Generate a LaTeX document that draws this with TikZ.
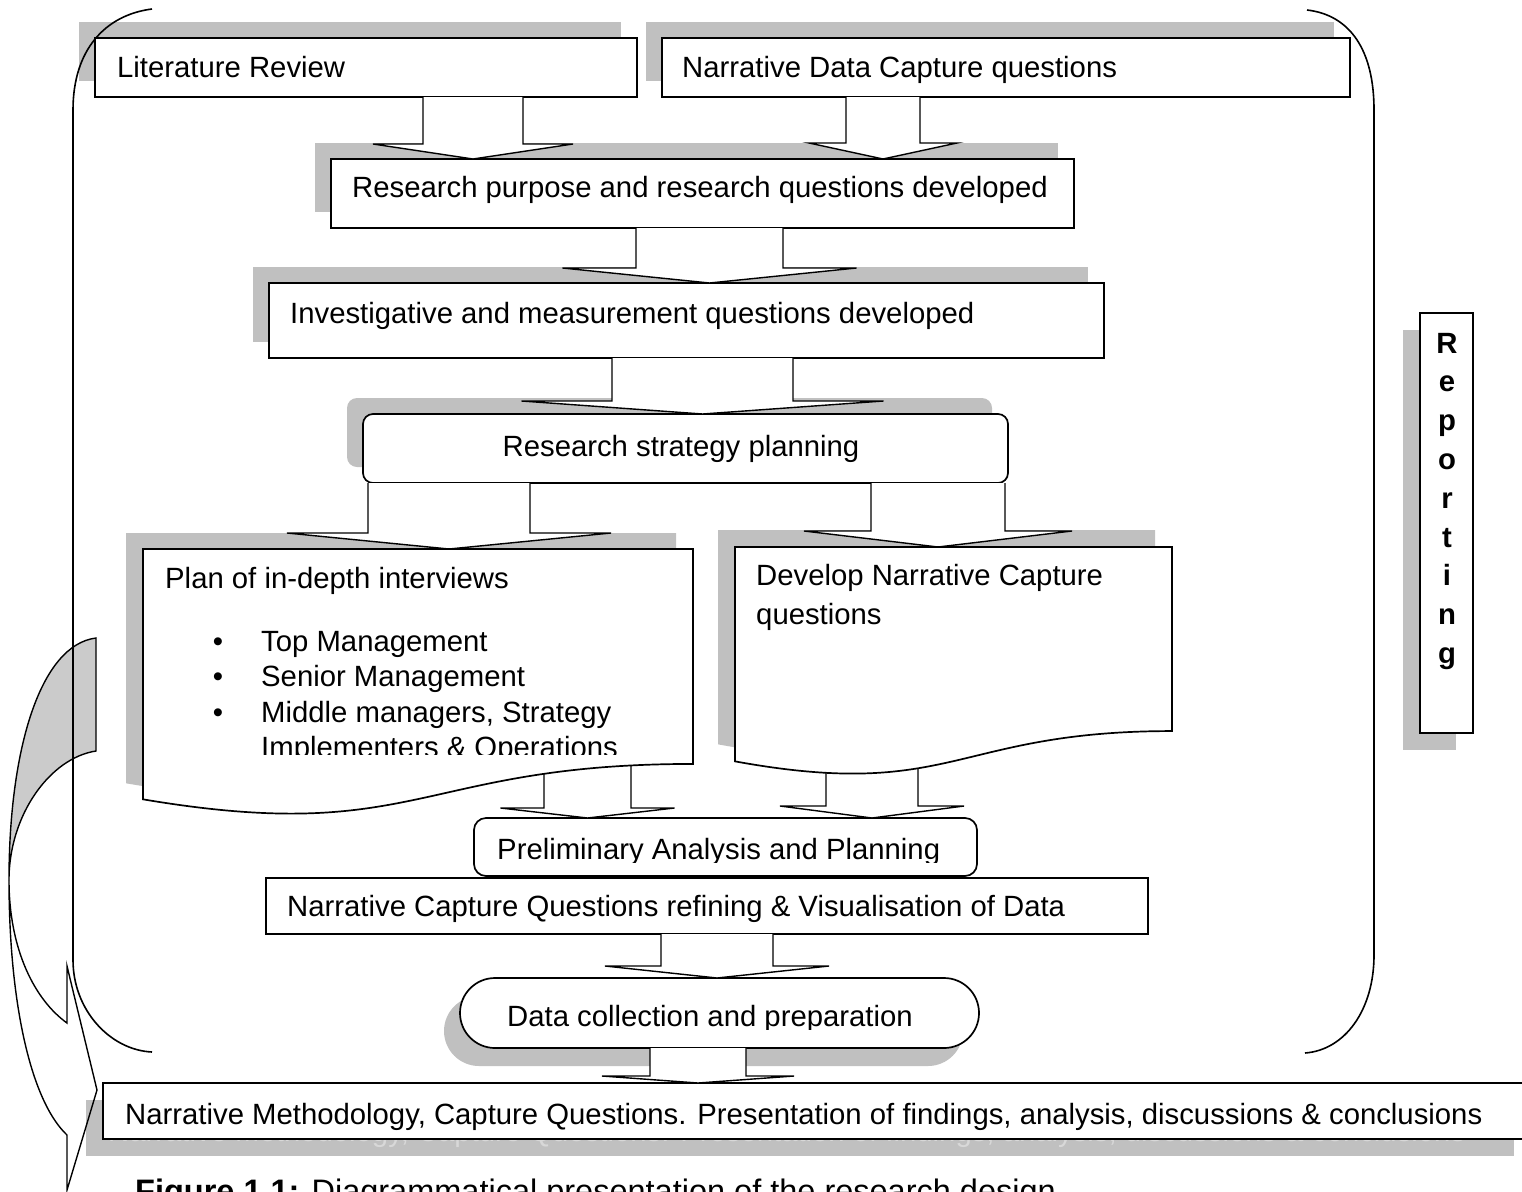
\documentclass[tikz,border=0pt]{standalone}
\usepackage{fontspec}
\setmainfont{Liberation Sans}
\usetikzlibrary{calc}
\pgfdeclarelayer{back}
\pgfsetlayers{back,main}
\definecolor{shadowgray}{HTML}{C0C0C0}
\definecolor{crescentgray}{HTML}{CBCBCB}
\definecolor{ghostgray}{HTML}{D8D8D8}

\tikzset{
  box/.style={draw, fill=white, line width=1.7pt, inner sep=0pt, outer sep=0pt, anchor=north west},
  anchorbox/.style={inner sep=0pt, outer sep=0pt, anchor=north west},
  txt/.style={inner sep=0pt, anchor=base west},
  shadowfill/.style={fill=shadowgray},
  blockarr/.style={draw, fill=white, line width=1.4pt, line join=miter},
  bracket/.style={draw, line width=1.6pt},
  docline/.style={draw, fill=white, line width=1.7pt},
  ribbon/.style={draw, line width=1.4pt, line join=miter},
  letter/.style={inner sep=0pt, anchor=base, font={\fontsize{29.3}{35}\selectfont\bfseries}},
}

% outline of a flowchart "document" shape: x, y, width, height
\newcommand\docpath[4]{(#1,#2) -- (#1+#3,#2) -- (#1+#3,#2+0.802*#4)
  .. controls (#1+0.5*#3,#2+0.802*#4) and (#1+0.5*#3,#2+1.1075*#4) .. (#1,#2+0.934*#4) -- cycle}

% shadow behind a box node: node, dx, dy, corner style
\newcommand\boxshadow[4]{\fill[shadowfill, #4] ([shift={(#2,#3)}]#1.north west) rectangle ([shift={(#2,#3)}]#1.south east);}

% hollow block arrow: source, target, shaft left x, shaft right x, head height
\newcommand\blockarrow[5]{%
  \pgfmathsetmacro\arrC{(#3+#4)/2}%
  \pgfmathsetmacro\arrWL{#3-(#4-#3)/2}%
  \pgfmathsetmacro\arrWR{#4+(#4-#3)/2}%
  \draw[blockarr] let \p1=(#1.south), \p2=(#2.north) in
    (#3pt,\y1) -- (#3pt,\y2+#5pt) -- (\arrWL pt,\y2+#5pt) -- (\arrC pt,\y2)
    -- (\arrWR pt,\y2+#5pt) -- (#4pt,\y2+#5pt) -- (#4pt,\y1);}

\begin{document}
\begin{tikzpicture}[x=1pt, y=-1pt, font=\fontsize{29.3}{35}\selectfont]
\useasboundingbox (0,0) rectangle (1522,1191);

% curved feedback arrow on the left
\filldraw[ribbon, fill=crescentgray] (96,638) .. controls (40,645) and (9,750) .. (9,880)
  .. controls (9,815) and (50,758) .. (96,751) -- cycle;
\draw[ribbon] (9,880) .. controls (9,1000) and (30,1100) .. (67,1135) -- (67,1190) -- (97,1090)
  -- (67,966) -- (67,1023) .. controls (35,1000) and (9,950) .. (9,880);

% large brackets around the process
\draw[bracket] (152,9) .. controls (105,15) and (73,50) .. (73,110) -- (73,960)
  .. controls (73,1010) and (110,1050) .. (152,1052);
\draw[bracket] (1307,10) .. controls (1350,15) and (1374,50) .. (1374,110) -- (1374,955)
  .. controls (1374,1010) and (1345,1050) .. (1305,1053);

% boxes
\node[box, minimum width=542pt, minimum height=59pt] (lr) at (95,38) {};
\node[txt] (lr-t) at (117,77) {Literature Review};
\node[box, minimum width=688pt, minimum height=59pt] (ndc) at (662,38) {};
\node[txt] (ndc-t) at (682,77) {Narrative Data Capture questions};
\node[box, minimum width=743pt, minimum height=69pt] (rp) at (331,159) {};
\node[txt] (rp-t) at (352,197) {Research purpose and research questions developed};
\node[box, minimum width=835pt, minimum height=75pt] (im) at (269,283) {};
\node[txt] (im-t) at (290,323) {Investigative and measurement questions developed};
\node[box, rounded corners=10pt, minimum width=645pt, minimum height=69pt] (rs) at (363,414) {};
\node[txt, anchor=base] (rs-t) at (681,456) {Research strategy planning};
\node[anchorbox, minimum width=550pt, minimum height=215pt] (pi) at (143,549) {};
\node[anchorbox, minimum width=437pt, minimum height=184pt] (dn) at (735,547) {};
\node[box, rounded corners=12pt, minimum width=503pt, minimum height=58pt] (pa) at (474,818) {};
\begin{scope}
  \clip (474,818) rectangle (977,862);
  \node[txt] (pa-t) at (497,859) {Preliminary Analysis and Planning};
\end{scope}
\node[box, minimum width=882pt, minimum height=56pt] (nc) at (266,878) {};
\node[txt] (nc-t) at (287,916) {Narrative Capture Questions refining \& Visualisation of Data};
\node[box, rounded corners=35pt, minimum width=519pt, minimum height=70pt] (dc) at (460,978) {};
\begin{scope}
  \clip (460,978) rectangle (979,1029);
  \node[txt] (dc-t) at (507,1026) {Data collection and preparation};
\end{scope}
\node[box, minimum width=1428pt, minimum height=56pt] (nm) at (103,1083) {};
\node[txt] (nm-t) at (125,1124) {Narrative Methodology, Capture Questions. Presentation of findings, analysis, discussions \& conclusions};
\node[box, minimum width=53pt, minimum height=420pt] (rep) at (1420,313) {};
\foreach \lt [count=\idx] in {R,e,p,o,r,t,i,n,g}
  \node[letter] (rep-\idx) at (1447,{353+38.8*(\idx-1)}) {\lt};

% block arrows between the steps
\blockarrow{lr}{rp}{423}{523}{15}
\blockarrow{ndc}{rp}{846}{920}{16}
\blockarrow{rp}{im}{636}{783}{15}
\blockarrow{im}{rs}{612}{793}{13}
\blockarrow{rs}{pi}{368}{530}{16}
\blockarrow{rs}{dn}{871}{1005}{16}
\blockarrow{pi}{pa}{544}{631}{10}
\blockarrow{dn}{pa}{826}{918}{12}
\blockarrow{nc}{dc}{661}{773}{12}
\blockarrow{dc}{nm}{650}{746}{7}

% document shapes
\path[docline] \docpath{143}{549}{550}{268};
\node[txt] (pi-t) at (165,588) {Plan of in-depth interviews};
\begin{scope}
  \clip (143,549) rectangle (693,754);
  \node[txt, anchor=base] (pi-b1) at (218,651) {•};
  \node[txt] (pi-i1) at (261,651) {Top Management};
  \node[txt, anchor=base] (pi-b2) at (218,686.5) {•};
  \node[txt] (pi-i2) at (261,686.5) {Senior Management};
  \node[txt, anchor=base] (pi-b3) at (218,722) {•};
  \node[txt] (pi-i3) at (261,722) {Middle managers, Strategy};
  \node[txt] (pi-i4) at (261,757.5) {Implementers \& Operations};
\end{scope}
\path[docline] \docpath{735}{547}{437}{229.5};
\node[txt] (dn-t1) at (756,585) {Develop Narrative Capture};
\node[txt] (dn-t2) at (756,624) {questions};

% caption
\node[txt] (cap) at (135,1202) {\fontsize{32.5}{38}\selectfont\textbf{Figure 1.1:} Diagrammatical presentation of the research design};

% shadows
\begin{pgfonlayer}{back}
  \boxshadow{lr}{-16}{-16}{sharp corners}
  \boxshadow{ndc}{-16}{-16}{sharp corners}
  \boxshadow{rp}{-16}{-16}{sharp corners}
  \boxshadow{im}{-16}{-16}{sharp corners}
  \boxshadow{rs}{-16}{-16}{rounded corners=10pt}
  \boxshadow{dc}{-16}{18}{rounded corners=35pt}
  \boxshadow{nm}{-17}{17}{sharp corners}
  \boxshadow{rep}{-17}{17}{sharp corners}
  \fill[shadowfill] \docpath{126}{533}{550}{268};
  \fill[shadowfill] \docpath{718}{530}{437}{229.5};
  % the text's own shadow only peeks out below the box
  \begin{scope}
    \clip (86,1140) rectangle (1514,1157);
    \node[txt, text=ghostgray] (nm-ghost) at (108,1141) {Narrative Methodology, Capture Questions. Presentation of findings, analysis, discussions \& conclusions};
  \end{scope}
\end{pgfonlayer}
\end{tikzpicture}
\end{document}
